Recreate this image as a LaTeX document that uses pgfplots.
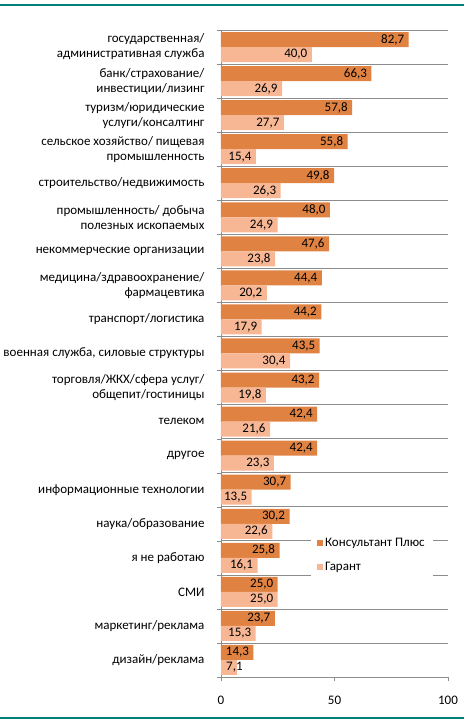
\documentclass[border=0pt]{standalone}
\usepackage{fontspec}
\setmainfont{Carlito}
\usepackage{pgfplots}
\pgfplotsset{compat=1.18}
\definecolor{kons}{RGB}{224,131,66}
\definecolor{gar}{RGB}{248,183,148}
\definecolor{tealline}{RGB}{0,128,120}
\definecolor{gridg}{RGB}{140,140,140}
\begin{document}
\begin{tikzpicture}
\useasboundingbox (0,0) rectangle (464pt,724pt);
\draw[tealline, line width=2.2pt] (0,719pt) -- (464pt,719pt);
\draw[tealline, line width=2.2pt] (0,6pt) -- (464pt,6pt);
\begin{axis}[
  at={(221pt,47pt)}, anchor=south west,
  scale only axis, width=227pt, height=647pt,
  xbar, bar width=15pt,
  xmin=0, xmax=100, ymin=-0.5, ymax=18.5,
  axis x line*=bottom, axis y line*=left,
  axis line style={gridg},
  xtick={0,50,100},
  tick align=outside,
  major tick length=4pt, minor tick length=4pt,
  x tick style={gridg},
  xticklabel style={yshift=-12pt},
  ytick={0,...,18},
  major y tick style={draw=none},
  minor ytick={-0.5,0.5,...,18.5},
  minor y tick style={draw=gridg},
  yminorgrids, minor grid style={gridg, line width=0.6pt},
  yticklabel style={align=right, xshift=-9pt},
  yticklabels={
    {дизайн/реклама},
    {маркетинг/реклама},
    {СМИ},
    {я не работаю},
    {наука/образование},
    {информационные технологии},
    {другое},
    {телеком},
    {торговля/ЖКХ/сфера услуг/\\общепит/гостиницы},
    {военная служба, силовые структуры},
    {транспорт/логистика},
    {медицина/здравоохранение/\\фармацевтика},
    {некоммерческие организации},
    {промышленность/ добыча\\полезных ископаемых},
    {строительство/недвижимость},
    {сельское хозяйство/ пищевая\\промышленность},
    {туризм/юридические\\услуги/консалтинг},
    {банк/страхование/\\инвестиции/лизинг},
    {государственная/\\административная  служба}
  },
  /pgf/number format/assume math mode=true,
  font=\fontsize{13}{15}\selectfont,
  point meta=x,
  nodes near coords={\pgfmathprintnumber[fixed,fixed zerofill,precision=1,use comma]{\pgfplotspointmeta}},
  every node near coord/.append style={anchor=east, xshift=-1pt, font=\fontsize{13}{15}\selectfont, text=black},
  legend style={at={(axis cs:39.6,3.75)}, anchor=north west, draw=none, fill=white,
    font=\fontsize{13}{15}\selectfont, row sep=10pt, inner xsep=6pt, inner ysep=4pt},
  legend cell align=left,
  legend image code/.code={\fill[#1] (1pt,-3pt) rectangle (7pt,3pt);},
]
\addplot[fill=kons, draw=none, bar shift=7.5pt] coordinates {
(14.3,0) (23.7,1) (25.0,2) (25.8,3) (30.2,4) (30.7,5) (42.4,6) (42.4,7) (43.2,8) (43.5,9)
(44.2,10) (44.4,11) (47.6,12) (48.0,13) (49.8,14) (55.8,15) (57.8,16) (66.3,17) (82.7,18)
};
\addplot[fill=gar, draw=none, bar shift=-7.5pt] coordinates {
(15.3,1) (25.0,2) (16.1,3) (22.6,4) (13.5,5) (23.3,6) (21.6,7) (19.8,8) (30.4,9)
(17.9,10) (20.2,11) (23.8,12) (24.9,13) (26.3,14) (15.4,15) (27.7,16) (26.9,17) (40.0,18)
};
\addplot[fill=gar, draw=none, bar shift=-7.5pt, forget plot,
  every node near coord/.append style={anchor=east, xshift=10pt}] coordinates {
(7.1,0)
};
\legend{Консультант Плюс, Гарант}
\end{axis}
\end{tikzpicture}
\end{document}
